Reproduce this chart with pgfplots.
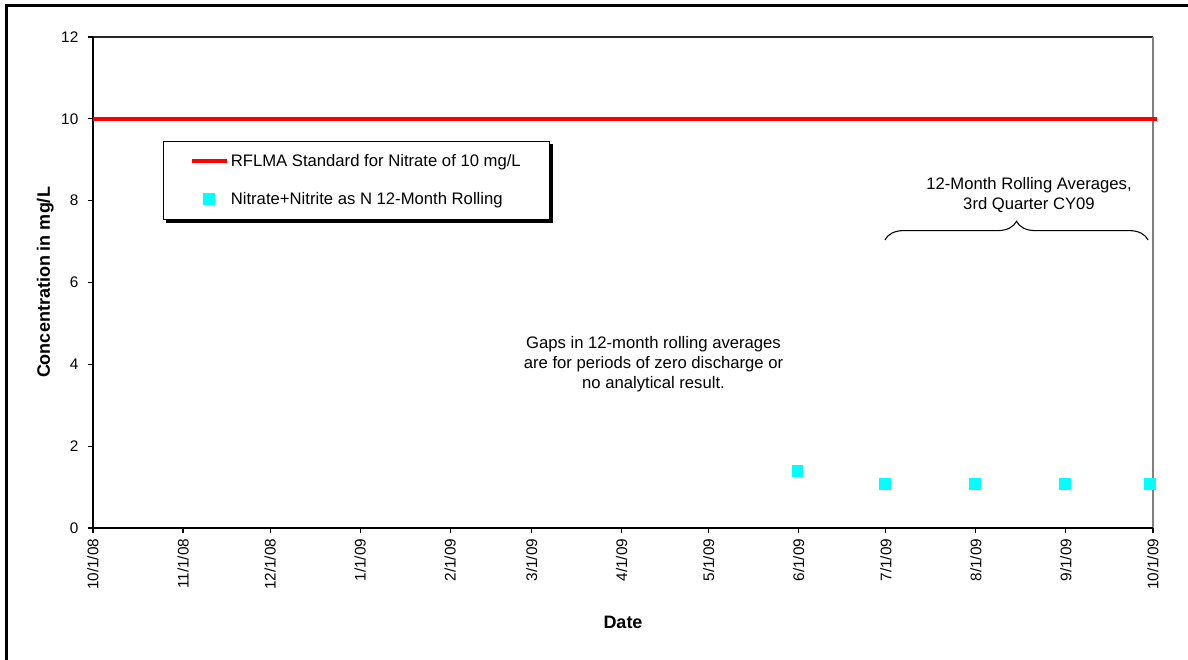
\documentclass[border=0pt]{standalone}
\usepackage{fontspec}
\setmainfont{Liberation Sans}
\usepackage{pgfplots}
\usepackage{pgfplotstable}
\pgfplotsset{compat=1.18}
\usetikzlibrary{decorations.pathreplacing}
\pgfdeclarelayer{background}
\pgfsetlayers{background,main}
\definecolor{aqua}{RGB}{0,255,255}
\definecolor{exred}{RGB}{255,0,0}

\pgfplotstableread{
day val
242.5 1.40
272.5 1.08
303.5 1.08
334.5 1.08
364.0 1.08
}\nitrate

\begin{document}
\fontsize{11.5}{13.8}\selectfont
\begin{tikzpicture}
\path[use as bounding box] (-69.75pt,-99pt) rectangle (821.25pt,396pt);
\draw[line width=2.25pt] (-64.5pt,-120pt) -- (-64.5pt,391.5pt) -- (840pt,391.5pt);
\begin{axis}[
  at={(0,0)}, anchor=south west,
  scale only axis, width=795pt, height=368.25pt,
  xmin=0, xmax=365, ymin=0, ymax=12,
  clip=false,
  axis line style={draw=none},
  tick pos=left, tick align=outside,
  major tick length=4pt,
  every tick/.style={black, line width=0.8pt},
  tick label style={font=\fontsize{11.5}{13.8}\selectfont},
  xtick={0,31,61,92,123,151,182,212,243,273,304,335,365},
  xticklabels={10/1/08,11/1/08,12/1/08,1/1/09,2/1/09,3/1/09,4/1/09,5/1/09,6/1/09,7/1/09,8/1/09,9/1/09,10/1/09},
  xticklabel style={rotate=90, anchor=east},
  ytick={0,2,4,6,8,10,12},
  yticklabel style={xshift=-3pt},
  /pgf/number format/assume math mode=true,
  xlabel={Date},
  ylabel={Concentration in mg/L},
  every axis x label/.style={at={(axis description cs:0.5,-0.193)}, anchor=center,
    font=\fontsize{13.5}{16}\selectfont\bfseries},
  every axis y label/.style={at={(axis description cs:-0.045,0.5)}, rotate=90, anchor=center,
    font=\fontsize{13.5}{16}\selectfont\bfseries},
  legend style={at={(rel axis cs:0.066,0.788)}, anchor=north west,
    name=leg,
    draw=black, line width=0.8pt, fill=white,
    font=\fontsize{12.5}{15}\selectfont,
    inner xsep=20pt, inner ysep=8pt, row sep=14.5pt,
    nodes={inner sep=1.5pt}},
  legend cell align=left,
]
\draw[black!85, line width=0.9pt] (rel axis cs:0,1) -- (rel axis cs:1,1);
\draw[gray, line width=1.2pt] (rel axis cs:1,0) -- (rel axis cs:1,1);
\draw[black, line width=1.1pt] (rel axis cs:0,1) -- (rel axis cs:0,0) -- (rel axis cs:1,0);

\addplot[exred, line width=3pt,
  legend image code/.code={\draw[exred, line width=3pt] (0pt,0pt) -- (26pt,0pt);}]
  coordinates {(0,10) (366.5,10)};
\addlegendentry{RFLMA Standard for Nitrate of 10 mg/L}

\addplot[only marks, mark=square*, mark size=4.1pt, mark options={fill=aqua, draw=aqua},
  legend image code/.code={\fill[aqua] (8.9pt,-4.1pt) rectangle (17.1pt,4.1pt);}]
  table[x=day, y=val] {\nitrate};
\addlegendentry{Nitrate+Nitrite as N 12-Month Rolling}

\node[align=center, font=\fontsize{12.5}{15}\selectfont] at (axis cs:193,4.0)
  {Gaps in 12-month rolling averages\\are for periods of zero discharge or\\no analytical result.};
\node[align=center, font=\fontsize{12.5}{15}\selectfont] at (axis cs:322.3,8.14)
  {12-Month Rolling Averages,\\3rd Quarter CY09};
\draw[line width=0.8pt, decorate, decoration={brace, amplitude=14pt}]
  (axis cs:272.7,7.04) -- (axis cs:363.3,7.04);
\end{axis}
\begin{pgfonlayer}{background}
\fill[black] ([shift={(2.5pt,-2.5pt)}]leg.south west) rectangle ([shift={(2.5pt,-2.5pt)}]leg.north east);
\end{pgfonlayer}
\end{tikzpicture}
\end{document}
